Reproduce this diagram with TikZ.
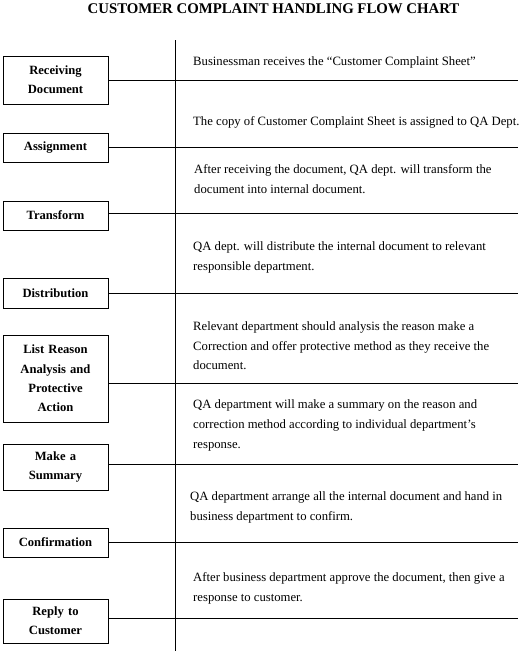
\documentclass[tikz,border=0pt]{standalone}
\usepackage{fontspec}
\setmainfont{Liberation Serif}
\usepackage{tikz}

\begin{document}
\begin{tikzpicture}
    [x=1pt, y=-1pt,
    stage/.style={draw, line width=0.8pt, minimum width=105pt, minimum height=29pt,
      text width=101pt, align=center, inner xsep=2pt, inner ysep=2pt,
      font=\fontsize{12.6}{19.3}\selectfont\bfseries},
    desc/.style={anchor=north west, inner sep=0pt, align=left,
      font=\fontsize{12.7}{19.7}\selectfont},
    rule/.style={line width=0.8pt}]
  \useasboundingbox (0,0) rectangle (524,651);

  \node (title) at (273.5,8.5) {\fontsize{14.8}{17}\selectfont\bfseries CUSTOMER COMPLAINT HANDLING FLOW CHART};

  \coordinate (top) at (175,40);
  \coordinate (bottom) at (175,651);
  \coordinate (edge) at (518,0);

  \node [stage, minimum height=48pt] (recv) at (55.5,80) {Receiving\\Document};
  \node [stage] (assign) at (55.5,147.5) {Assignment};
  \node [stage] (transform) at (55.5,215.5) {Transform};
  \node [stage, minimum height=30pt] (distrib) at (55.5,293) {Distribution};
  \node [stage, minimum height=87pt] (listreason) at (55.5,378.5) {List Reason\\Analysis and\\Protective\\Action};
  \node [stage, minimum height=46pt] (summary) at (55.5,467) {Make a\\Summary};
  \node [stage] (confirm) at (55.5,542.5) {Confirmation};
  \node [stage, minimum height=44pt] (reply) at (55.5,621) {Reply to\\Customer};

  \node [desc] (t1) at (193,51.5) {\strut Businessman receives the “Customer Complaint Sheet”};
  \node [desc] (t2) at (193,111.5) {\strut The copy of Customer Complaint Sheet is assigned to QA Dept.};
  \node [desc] (t3) at (194,159.5) {\strut After receiving the document, QA dept. will transform the\\document into internal document.};
  \node [desc] (t4) at (193,236.5) {\strut QA dept. will distribute the internal document to relevant\\responsible department.};
  \node [desc] (t5) at (193,316.5) {\strut Relevant department should analysis the reason make a\\Correction and offer protective method as they receive the\\document.};
  \node [desc] (t6) at (193,395) {\strut QA department will make a summary on the reason and\\correction method according to individual department’s\\response.};
  \node [desc] (t7) at (190,487) {\strut QA department arrange all the internal document and hand in\\business department to confirm.};
  \node [desc] (t8) at (193,568) {\strut After business department approve the document, then give a\\response to customer.};

  \draw [rule] (top) -- (bottom);
  \draw [rule] (recv.east) -- (recv.east -| edge);
  \draw [rule] (assign.east) -- (assign.east -| edge);
  \draw [rule] ([yshift=2.5pt]transform.east) -- ([yshift=2.5pt]transform.east -| edge);
  \draw [rule] (distrib.east) -- (distrib.east -| edge);
  \draw [rule] ([yshift=-4.5pt]listreason.east) -- ([yshift=-4.5pt]listreason.east -| edge);
  \draw [rule] ([yshift=3pt]summary.east) -- ([yshift=3pt]summary.east -| edge);
  \draw [rule] (confirm.east) -- (confirm.east -| edge);
  \draw [rule] ([yshift=3pt]reply.east) -- ([yshift=3pt]reply.east -| edge);
\end{tikzpicture}
\end{document}
